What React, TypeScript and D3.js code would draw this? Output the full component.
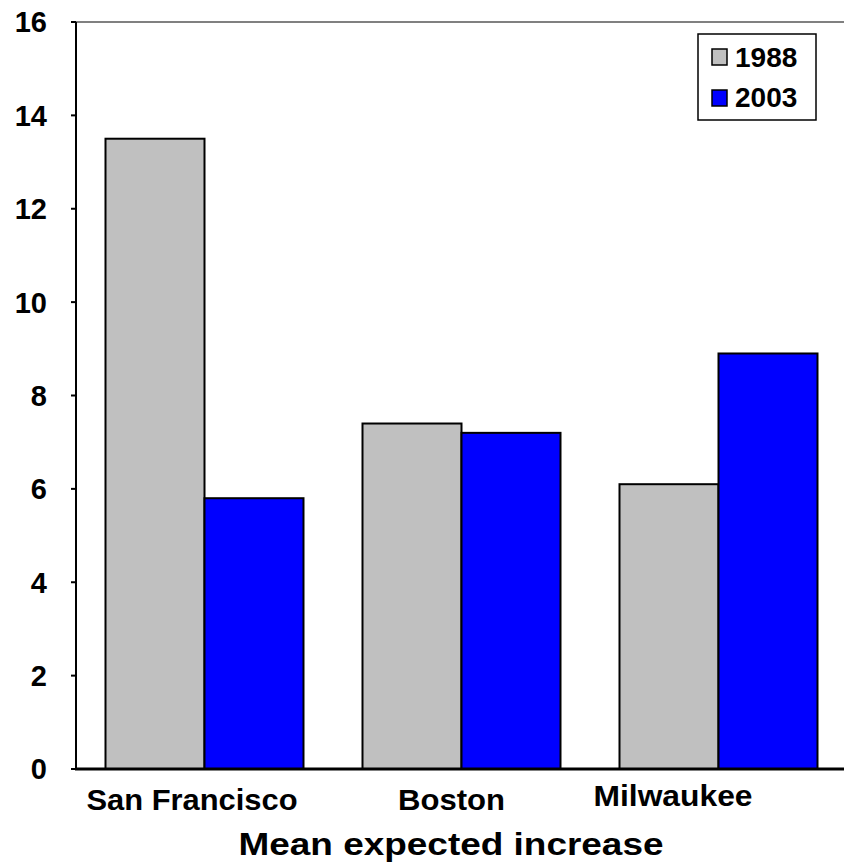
import React from "react";
import * as d3 from "d3";

const categories = ["San Francisco", "Boston", "Milwaukee"];
const seriesNames = ["1988", "2003"];
const values1988 = [13.5, 7.4, 6.1];
const values2003 = [5.8, 7.2, 8.9];
const yTicks = [0, 2, 4, 6, 8, 10, 12, 14, 16];
const colors = ["#c0c0c0", "#0000ff"];
const xTitle = "Mean expected increase";

const W = 844;
const H = 862;
const FONT = "'Liberation Sans', Arial, Helvetica, sans-serif";

export default function App() {
  const left = 76;
  const right = 847;
  const top = 22;
  const bottom = 769;

  const x = d3.scaleBand<string>().domain(categories).range([left, right]).paddingInner(0).paddingOuter(0);
  const xi = d3.scaleBand<string>().domain(seriesNames).range([0, x.bandwidth()]).paddingInner(0).paddingOuter(0.298);
  const y = d3.scaleLinear().domain([0, 16]).range([bottom, top]);
  const series = [values1988, values2003];
  const labelDx = [-12.5, -10, -45.5];
  const labelDy = [0, 0, -4];
  const labelLen = [211, 107, 159];

  return (
    <svg width={W} height={H} style={{ position: "absolute", left: 0, top: 0, background: "#fff" }} fontFamily={FONT}>
      <line x1={left} x2={W} y1={top} y2={top} stroke="#808080" strokeWidth={2} />
      {categories.map((c, ci) =>
        series.map((vals, si) => {
          const bx = (x(c) ?? 0) + (xi(seriesNames[si]) ?? 0);
          const by = y(vals[ci]);
          return (
            <rect key={c + si} x={bx} y={by} width={xi.bandwidth()} height={y(0) - by}
              fill={colors[si]} stroke="#000" strokeWidth={2} />
          );
        })
      )}
      <line x1={left} x2={left} y1={top} y2={bottom + 1} stroke="#000" strokeWidth={2} />
      <line x1={left - 1} x2={W} y1={bottom} y2={bottom} stroke="#000" strokeWidth={3} />
      {yTicks.map((t) => (
        <g key={t}>
          <line x1={left - 5} x2={left} y1={y(t)} y2={y(t)} stroke="#000" strokeWidth={2} />
          <text x={47} y={y(t)} dy="0.36em" textAnchor="end" fontSize={29} fontWeight="bold">{t}</text>
        </g>
      ))}
      {categories.map((c, i) => (
        <text key={c} x={(x(c) ?? 0) + x.bandwidth() / 2 + labelDx[i]} y={810 + labelDy[i]}
          textAnchor="middle" fontSize={30} fontWeight="bold"
          textLength={labelLen[i]} lengthAdjust="spacingAndGlyphs">{c}</text>
      ))}
      <text x={451} y={855} textAnchor="middle" fontSize={32} fontWeight="bold"
        textLength={425} lengthAdjust="spacingAndGlyphs">{xTitle}</text>
      <rect x={698} y={34} width={118} height={86} fill="#fff" stroke="#000" strokeWidth={1.5} />
      {seriesNames.map((s, i) => (
        <g key={s}>
          <rect x={712} y={49 + i * 41} width={15} height={16} fill={colors[i]} stroke="#000" strokeWidth={1.5} />
          <text x={735} y={66.5 + i * 40.5} fontSize={28} fontWeight="bold">{s}</text>
        </g>
      ))}
    </svg>
  );
}
